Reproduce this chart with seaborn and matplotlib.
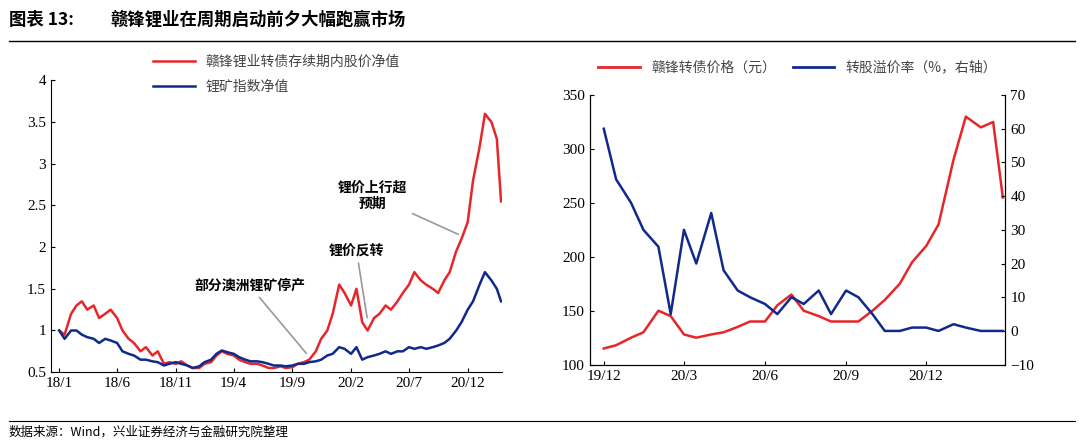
import matplotlib
matplotlib.use("Agg")
import matplotlib.pyplot as plt
import seaborn as sns
import pandas as pd
import numpy as np
from matplotlib.lines import Line2D

CJK = "Noto Sans CJK SC"
SER = "Liberation Serif"
RED = "#e8262a"
BLUE = "#0f2a8a"

# ---- left chart data (half-monthly) ----
left_start = "2018-01-01"
gf_stock = [1.0, 0.95, 1.2, 1.3, 1.35, 1.25, 1.3, 1.15, 1.2, 1.25, 1.15, 1.0, 0.9, 0.85, 0.75, 0.8,
            0.7, 0.75, 0.6, 0.62, 0.6, 0.63, 0.58, 0.55,
            0.55, 0.6, 0.62, 0.7, 0.75, 0.72, 0.7, 0.65, 0.62, 0.6, 0.6, 0.58, 0.55, 0.55, 0.57, 0.55,
            0.56, 0.6, 0.62, 0.65, 0.75, 0.9, 1.0, 1.2,
            1.55, 1.45, 1.3, 1.5, 1.1, 1.0, 1.15, 1.2, 1.3, 1.25, 1.35, 1.45, 1.55, 1.7, 1.6, 1.55,
            1.5, 1.45, 1.6, 1.7, 1.95, 2.1, 2.3, 2.8,
            3.2, 3.6, 3.5, 3.3, 2.55]
li_index = [1.0, 0.9, 1.0, 1.0, 0.95, 0.92, 0.9, 0.85, 0.9, 0.88, 0.85, 0.75, 0.72, 0.7, 0.65, 0.65,
            0.63, 0.62, 0.58, 0.6, 0.62, 0.6, 0.58, 0.55,
            0.57, 0.62, 0.65, 0.72, 0.76, 0.74, 0.72, 0.68, 0.65, 0.63, 0.63, 0.62, 0.6, 0.58, 0.58, 0.57,
            0.58, 0.6, 0.6, 0.62, 0.63, 0.65, 0.7, 0.72,
            0.8, 0.78, 0.72, 0.8, 0.65, 0.68, 0.7, 0.72, 0.75, 0.72, 0.75, 0.75, 0.8, 0.78, 0.8, 0.78,
            0.8, 0.82, 0.85, 0.9, 1.0, 1.1, 1.25, 1.35,
            1.55, 1.7, 1.6, 1.5, 1.35]
left_ticks = ["2018-01-01", "2018-06-01", "2018-11-01", "2019-04-01", "2019-09-01",
              "2020-02-01", "2020-07-01", "2020-12-01"]
left_ticklabels = ["18/1", "18/6", "18/11", "19/4", "19/9", "20/2", "20/7", "20/12"]

# ---- right chart data (half-monthly) ----
right_start = "2019-12-01"
cb_price = [115, 118, 125, 130, 150, 145, 128, 125, 128, 130, 135, 140, 140, 155, 165, 150,
            145, 140, 140, 140, 150, 160, 175, 195, 210, 230, 290, 330, 320, 325, 255]
premium = [60, 45, 38, 30, 25, 5, 30, 20, 35, 18, 12, 10, 8, 5, 10, 8,
           12, 5, 12, 10, 5, 0, 0, 1, 1, 0, 2, 1, 0, 0, 0]
right_ticks = ["2019-12-01", "2020-03-01", "2020-06-01", "2020-09-01", "2020-12-01"]
right_ticklabels = ["19/12", "20/3", "20/6", "20/9", "20/12"]
end_date = "2021-02-26"

def dates(start, n):
    d = pd.date_range(start, periods=n - 1, freq="SMS")
    return d.append(pd.DatetimeIndex([end_date]))

dfl = pd.DataFrame({"date": dates(left_start, len(gf_stock)), "s": gf_stock, "i": li_index})
dfr = pd.DataFrame({"date": dates(right_start, len(cb_price)), "p": cb_price, "r": premium})

fig = plt.figure(figsize=(10.8, 4.42), dpi=100)
fig.text(0.008, 0.955, "图表 13:", fontfamily=CJK, fontweight="bold", fontsize=12.5, va="center")
fig.text(0.102, 0.955, "赣锋锂业在周期启动前夕大幅跑赢市场", fontfamily=CJK, fontweight="bold", fontsize=12.5, va="center")
fig.add_artist(Line2D([0.008, 0.995], [0.908, 0.908], color="black", lw=1))
fig.add_artist(Line2D([0.008, 0.995], [0.048, 0.048], color="black", lw=0.8))
fig.text(0.008, 0.022, "数据来源：Wind，兴业证券经济与金融研究院整理", fontfamily=CJK, fontsize=9, va="center")

# left
ax = fig.add_axes([0.047, 0.158, 0.418, 0.66])
sns.lineplot(data=dfl, x="date", y="s", ax=ax, color=RED, lw=1.8, label="赣锋锂业转债存续期内股价净值")
sns.lineplot(data=dfl, x="date", y="i", ax=ax, color=BLUE, lw=1.8, label="锂矿指数净值")
ax.set_ylim(0.5, 4)
ax.set_yticks([0.5, 1, 1.5, 2, 2.5, 3, 3.5, 4])
ax.set_yticklabels(["0.5", "1", "1.5", "2", "2.5", "3", "3.5", "4"])
ax.set_xlim(pd.Timestamp("2017-12-10"), pd.Timestamp("2021-03-01"))
ax.set_xticks(pd.to_datetime(left_ticks))
ax.set_xticklabels(left_ticklabels)
for s in ["top", "right"]:
    ax.spines[s].set_visible(False)
ax.set_xlabel(""); ax.set_ylabel("")
for t in ax.get_xticklabels() + ax.get_yticklabels():
    t.set_fontfamily(SER); t.set_fontsize(11)
ax.tick_params(direction="in", length=3)
leg = ax.legend(loc="upper center", bbox_to_anchor=(0.5, 1.13), frameon=False,
                prop={"family": CJK, "size": 10}, handlelength=3, labelspacing=0.8)
for t in leg.get_texts():
    t.set_color("#444444")
ann = dict(fontfamily=CJK, fontweight="bold", fontsize=10, ha="center", va="center",
           arrowprops=dict(arrowstyle="-", color="#999999", lw=1.2))
ax.annotate("锂价上行超\n预期", xy=(pd.Timestamp("2020-11-13"), 2.14), xytext=(pd.Timestamp("2020-03-28"), 2.62), **ann)
ax.annotate("锂价反转", xy=(pd.Timestamp("2020-03-15"), 1.12), xytext=(pd.Timestamp("2020-02-15"), 1.96), **ann)
ax.annotate("部分澳洲锂矿停产", xy=(pd.Timestamp("2019-10-12"), 0.70), xytext=(pd.Timestamp("2019-05-12"), 1.54), **ann)

# right
ax2 = fig.add_axes([0.546, 0.175, 0.385, 0.61])
sns.lineplot(data=dfr, x="date", y="p", ax=ax2, color=RED, lw=1.8, legend=False)
ax3 = ax2.twinx()
sns.lineplot(data=dfr, x="date", y="r", ax=ax3, color=BLUE, lw=1.8, legend=False)
ax2.set_ylim(100, 350); ax3.set_ylim(-10, 70)
ax2.set_yticks(range(100, 351, 50)); ax3.set_yticks(range(-10, 71, 10))
ax2.set_xlim(pd.Timestamp("2019-11-15"), pd.Timestamp("2021-03-01"))
ax2.set_xticks(pd.to_datetime(right_ticks))
ax2.set_xticklabels(right_ticklabels)
ax2.spines["top"].set_visible(False); ax3.spines["top"].set_visible(False)
for a in (ax2, ax3):
    a.set_xlabel(""); a.set_ylabel("")
    a.tick_params(direction="in", length=3)
    for t in a.get_xticklabels() + a.get_yticklabels():
        t.set_fontfamily(SER); t.set_fontsize(11)
h = [Line2D([], [], color=RED, lw=2), Line2D([], [], color=BLUE, lw=2)]
leg2 = ax2.legend(h, ["赣锋转债价格（元）", "转股溢价率（%，右轴）"], loc="lower center",
                  bbox_to_anchor=(0.5, 1.03), ncol=2, frameon=False, prop={"family": CJK, "size": 10},
                  handlelength=3, columnspacing=1.2)
for t in leg2.get_texts():
    t.set_color("#444444")

fig.savefig("out.png", dpi=100)
